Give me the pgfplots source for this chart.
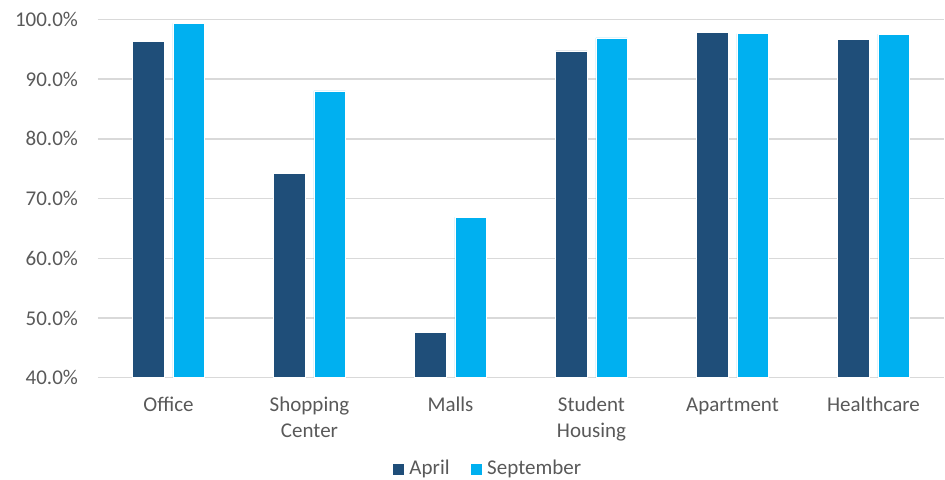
\documentclass[border=0pt]{standalone}
\usepackage{pgfplots}
\pgfplotsset{compat=1.18}
\usepackage{fontspec}
\setmainfont{Carlito}
\definecolor{aprilc}{HTML}{1F4E79}
\definecolor{septc}{HTML}{00B0F0}
\definecolor{txtc}{HTML}{595959}
\definecolor{gridc}{HTML}{D9D9D9}
\begin{document}
\begin{tikzpicture}
\useasboundingbox (-49pt,-50.65pt) rectangle (423.5pt,188.85pt);
\begin{axis}[
  at={(0,0)}, anchor=south west,
  scale only axis,
  width=423pt, height=179.2pt,
  xmin=-0.5, xmax=5.5,
  ymin=40, ymax=100,
  ybar, bar width=15.75pt,
  ytick={40,50,60,70,80,90,100},
  yticklabels={40.0\%,50.0\%,60.0\%,70.0\%,80.0\%,90.0\%,100.0\%},
  xtick={0,1,2,3,4,5},
  xticklabels={{\strut Office},{\strut Shopping\\Center},{\strut Malls},{\strut Student\\Housing},{\strut Apartment},{\strut Healthcare}},
  major tick length=0pt,
  axis line style={draw=none},
  ymajorgrids,
  grid style={gridc, line width=0.75pt},
  tick label style={font=\fontsize{10.5}{13}\selectfont, text=txtc},
  y tick label style={xshift=-6.5pt},
  x tick label style={align=center, anchor=north, yshift=-4.5pt},
  legend style={at={(0.461,-0.255)}, anchor=center, draw=none, fill=none,
    legend columns=2, font=\fontsize{10.5}{13}\selectfont, text=txtc,
    /tikz/every even column/.append style={column sep=8.5pt},
    nodes={inner sep=1.5pt}},
  legend image code/.code={\fill[#1] (0pt,-3pt) rectangle (6pt,3pt);},
  clip=false,
]
\addplot[fill=aprilc, draw=white, line width=0.3pt, bar shift=-10.1pt] coordinates {(0,96.3) (1,74.2) (2,47.6) (3,94.7) (4,97.8) (5,96.6)};
\addplot[fill=septc, draw=white, line width=0.3pt, bar shift=10.1pt] coordinates {(0,99.3) (1,88.0) (2,66.9) (3,96.9) (4,97.6) (5,97.5)};
\legend{{\hspace{1pt}April},{\hspace{1pt}September}}
\end{axis}
\end{tikzpicture}
\end{document}
